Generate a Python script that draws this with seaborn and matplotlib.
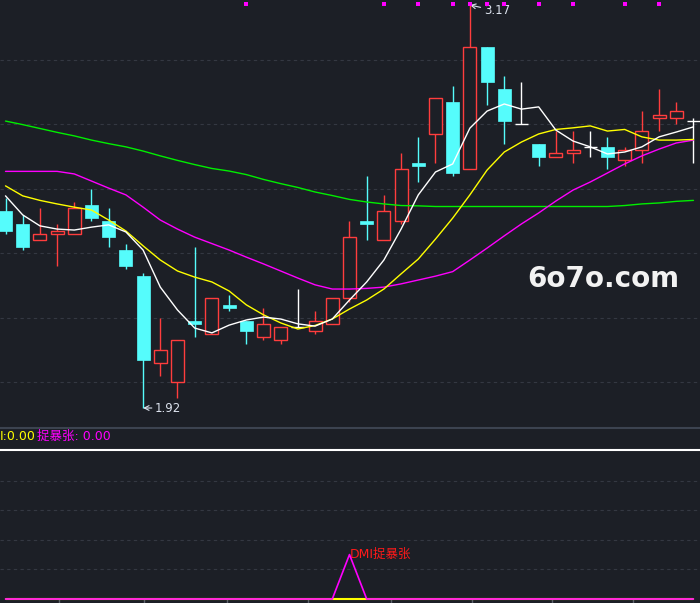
import numpy as np
import pandas as pd
import matplotlib
matplotlib.use("Agg")
import matplotlib.pyplot as plt
import matplotlib.transforms as mtransforms
import seaborn as sns

# datos de las velas (precio)
opens = [2.53, 2.49, 2.44, 2.46, 2.46, 2.55, 2.50, 2.41, 2.33, 2.06, 2.00, 2.19, 2.15, 2.24,
         2.19, 2.14, 2.13, 2.17, 2.16, 2.18, 2.26, 2.50, 2.44, 2.50, 2.68, 2.77, 2.87, 2.66,
         3.04, 2.91, 2.80, 2.74, 2.70, 2.71, 2.73, 2.73, 2.69, 2.72, 2.82, 2.82, 2.81]
highs = [2.57, 2.52, 2.54, 2.49, 2.56, 2.60, 2.54, 2.43, 2.34, 2.20, 2.13, 2.42, 2.26, 2.27,
         2.19, 2.23, 2.17, 2.29, 2.22, 2.26, 2.50, 2.64, 2.58, 2.71, 2.76, 2.88, 2.92, 3.17,
         3.04, 2.95, 2.93, 2.74, 2.78, 2.78, 2.78, 2.76, 2.73, 2.84, 2.91, 2.87, 2.82]
lows = [2.46, 2.41, 2.44, 2.36, 2.46, 2.50, 2.42, 2.35, 1.92, 2.02, 1.95, 2.14, 2.15, 2.22,
        2.12, 2.13, 2.12, 2.17, 2.15, 2.18, 2.25, 2.44, 2.44, 2.49, 2.62, 2.68, 2.64, 2.66,
        2.86, 2.74, 2.80, 2.67, 2.70, 2.68, 2.70, 2.66, 2.67, 2.68, 2.78, 2.80, 2.68]
closes = [2.47, 2.42, 2.46, 2.47, 2.54, 2.51, 2.45, 2.36, 2.07, 2.10, 2.13, 2.18, 2.26, 2.23,
          2.16, 2.18, 2.17, 2.17, 2.19, 2.26, 2.45, 2.49, 2.53, 2.66, 2.67, 2.88, 2.65, 3.04,
          2.93, 2.81, 2.80, 2.70, 2.71, 2.72, 2.73, 2.70, 2.72, 2.78, 2.83, 2.84, 2.81]

# medias moviles
ma_white = [2.578, 2.519, 2.485, 2.475, 2.472, 2.481, 2.488, 2.466, 2.410, 2.295, 2.224,
            2.168, 2.153, 2.177, 2.193, 2.202, 2.196, 2.181, 2.174, 2.196, 2.255, 2.311,
            2.379, 2.475, 2.581, 2.652, 2.677, 2.788, 2.841, 2.863, 2.847, 2.854, 2.782,
            2.748, 2.730, 2.708, 2.714, 2.730, 2.761, 2.776, 2.792]
ma_yellow = [2.609, 2.578, 2.564, 2.553, 2.543, 2.534, 2.503, 2.469, 2.423, 2.379, 2.345,
             2.326, 2.311, 2.283, 2.240, 2.209, 2.184, 2.165, 2.176, 2.196, 2.227, 2.255,
             2.289, 2.336, 2.382, 2.444, 2.509, 2.581, 2.658, 2.714, 2.745, 2.770, 2.784,
             2.789, 2.795, 2.779, 2.784, 2.761, 2.751, 2.751, 2.753]
ma_magenta = [2.654, 2.654, 2.654, 2.654, 2.646, 2.624, 2.602, 2.581, 2.543, 2.503, 2.475,
              2.450, 2.430, 2.410, 2.388, 2.367, 2.345, 2.323, 2.302, 2.289, 2.289, 2.291,
              2.295, 2.305, 2.317, 2.329, 2.343, 2.379, 2.416, 2.454, 2.491, 2.525, 2.562,
              2.596, 2.621, 2.649, 2.677, 2.702, 2.723, 2.742, 2.751]
ma_green = [2.810, 2.799, 2.787, 2.775, 2.764, 2.751, 2.740, 2.730, 2.717, 2.702, 2.688,
            2.675, 2.663, 2.655, 2.644, 2.629, 2.616, 2.604, 2.590, 2.579, 2.567, 2.559,
            2.553, 2.548, 2.547, 2.545, 2.545, 2.545, 2.545, 2.545, 2.545, 2.545, 2.545,
            2.545, 2.545, 2.545, 2.548, 2.553, 2.556, 2.561, 2.564]

# puntos magenta arriba
dot_idx = [14, 22, 24, 26, 27, 28, 29, 31, 33, 36, 38]

# indicador inferior
ind_yellow = [0.0] * 41
ind_magenta = [0.0] * 20 + [1.5] + [0.0] * 20
signal_idx = 20
signal_label = "DMI捉暴张"

tick_pos = [3.1, 8.05, 12.9, 17.6, 22.4, 27.1, 31.8, 36.5]

bg = "#1c1f26"
red = "#ff3d3d"
cyan = "#55fcfc"
grid_c = "#343842"

sns.set_theme(style="dark", rc={"axes.facecolor": bg, "figure.facecolor": bg})
plt.rcParams["font.family"] = ["DejaVu Sans", "Noto Sans CJK SC"]

df = pd.DataFrame({"i": np.arange(len(opens)), "open": opens, "high": highs,
                   "low": lows, "close": closes})

fig = plt.figure(figsize=(7, 6.03), dpi=100)
ax = fig.add_axes([0, 175 / 603, 1, 428 / 603])
ax2 = fig.add_axes([0, 0, 1, 153 / 603])

# velas
w = 0.75
for _, r in df.iterrows():
    if r["close"] > r["open"]:
        c = red
    elif r["close"] < r["open"]:
        c = cyan
    else:
        c = "white"
    ax.vlines(r["i"], r["low"], r["high"], color=c, lw=1, zorder=3)
    if c == red:
        ax.bar(r["i"], r["close"] - r["open"], bottom=r["open"], width=w,
               facecolor=bg, edgecolor=red, lw=1, zorder=4)
    elif c == cyan:
        ax.bar(r["i"], r["open"] - r["close"], bottom=r["close"], width=w,
               facecolor=cyan, edgecolor=cyan, lw=0.5, zorder=4)
    else:
        ax.hlines(r["close"], r["i"] - w / 2, r["i"] + w / 2, color="white", lw=1, zorder=4)

# medias
sns.lineplot(x=df["i"], y=ma_green, color="#00ee00", lw=1, ax=ax, zorder=5)
sns.lineplot(x=df["i"], y=ma_magenta, color="#ff00ff", lw=1, ax=ax, zorder=5)
sns.lineplot(x=df["i"], y=ma_yellow, color="#ffff00", lw=1, ax=ax, zorder=5)
sns.lineplot(x=df["i"], y=ma_white, color="white", lw=1, ax=ax, zorder=5)

# puntos
trans = mtransforms.blended_transform_factory(ax.transData, ax.transAxes)
sns.scatterplot(x=dot_idx, y=[1 - 3.5 / 428] * len(dot_idx), marker="s", s=10,
                color="#ff00ff", linewidth=0, ax=ax, transform=trans, zorder=6, clip_on=False)

# max y min
imax = int(np.argmax(highs))
imin = int(np.argmin(lows))
lab_c = "#dde3ee"
ax.annotate(f"{highs[imax]:.2f}", xy=(imax, highs[imax]), xytext=(14, -6),
            textcoords="offset pixels", ha="left", va="center", fontsize=8.5, color=lab_c,
            arrowprops=dict(arrowstyle="->", color=lab_c, lw=0.8, shrinkA=0, shrinkB=0))
ax.annotate(f"{lows[imin]:.2f}", xy=(imin, lows[imin]), xytext=(12, 0),
            textcoords="offset pixels", ha="left", va="center", fontsize=8.5, color=lab_c,
            arrowprops=dict(arrowstyle="->", color=lab_c, lw=0.8, shrinkA=0, shrinkB=0))

ax.set_xlim(-0.32, 40.38)
ax.set_ylim(1.858, 3.1855)
ax.set_yticks([2.0, 2.2, 2.4, 2.6, 2.8, 3.0])
ax.set_xticks([])
ax.grid(axis="y", color=grid_c, ls=(0, (3, 3)), lw=0.8)
ax.grid(axis="x", visible=False)
ax.tick_params(left=False, labelleft=False, bottom=False, labelbottom=False)
ax.set_xlabel("")
ax.set_ylabel("")
for s in ["top", "left", "right"]:
    ax.spines[s].set_visible(False)
ax.spines["bottom"].set_color("#3c4350")
ax.spines["bottom"].set_linewidth(1.5)

# marca de agua
fig.text(0.862, 1 - 279 / 603, "6o7o.com", color="#f2f2f2", fontsize=20,
         fontweight="bold", ha="center", va="center")

# leyenda del indicador
fig.text(0, 1 - 436 / 603, "I:0.00", color="#ffff00", fontsize=9,
         ha="left", va="center")
fig.text(37 / 700, 1 - 436 / 603, "捉暴张: 0.00", color="#ff00ff", fontsize=9,
         ha="left", va="center")

# panel inferior
sns.lineplot(x=df["i"], y=ind_yellow, color="#ffff00", lw=1.5, ax=ax2, zorder=3)
sns.lineplot(x=df["i"], y=ind_magenta, color="#ff00ff", lw=1.2, ax=ax2, zorder=4)
ax2.text(signal_idx, ind_magenta[signal_idx], signal_label, color="#ff1a1a", fontsize=9,
         ha="left", va="center", family=["DejaVu Sans", "Noto Sans CJK SC"])
ax2.set_xlim(-0.32, 40.38)
ax2.set_ylim(-0.135, 5.03)
ax2.set_yticks([1, 2, 3, 4])
ax2.set_xticks(tick_pos)
ax2.set_xticklabels([])
ax2.grid(axis="y", color=grid_c, ls=(0, (3, 3)), lw=0.8)
ax2.grid(axis="x", visible=False)
ax2.tick_params(left=False, labelleft=False, bottom=True, direction="in", length=3,
                color="#5a606b", width=1)
ax2.set_xlabel("")
ax2.set_ylabel("")
for s in ["left", "right", "bottom"]:
    ax2.spines[s].set_visible(False)
ax2.spines["top"].set_color("white")
ax2.spines["top"].set_linewidth(1.5)

fig.savefig("out.png", dpi=100, facecolor=bg)
